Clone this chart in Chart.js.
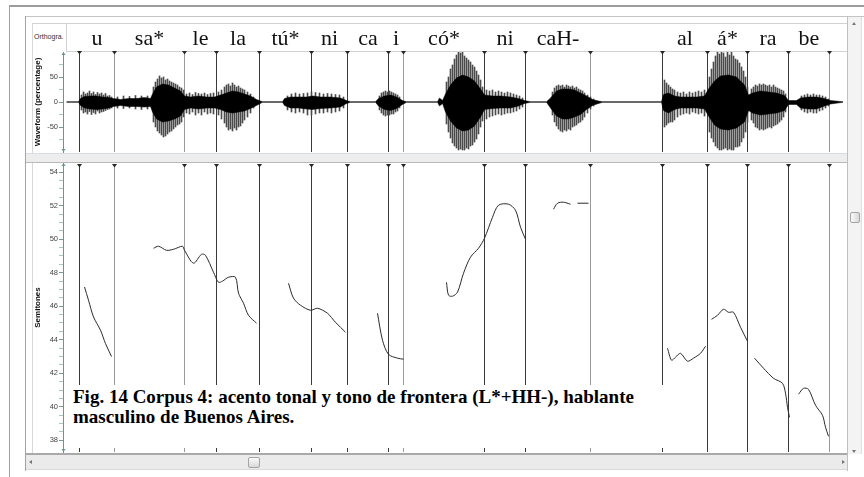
<!DOCTYPE html>
<html>
<head>
<meta charset="utf-8">
<script src="https://cdn.jsdelivr.net/npm/chart.js@4.4.1/dist/chart.umd.min.js"></script>
<style>
html, body { margin: 0; padding: 0; background: #fff; }
#stage { position: relative; width: 864px; height: 477px; overflow: hidden; font-family: 'Liberation Sans', Arial, sans-serif; }
.abs { position: absolute; }
canvas { position: absolute; left: 0; top: 0; }
.tri { position: absolute; width: 0; height: 0; }
</style>
</head>
<body>
<div id="stage">
  <!-- frame of the screenshot -->
  <div class="abs" style="left:9px;top:5px;width:855px;height:2px;background:#9c9c9c"></div>
  <div class="abs" style="left:9px;top:5px;width:1px;height:472px;background:#a0a0a0"></div>
  <div class="abs" style="left:25px;top:16px;width:839px;height:1px;background:#c4c4c4"></div>
  <div class="abs" style="left:25px;top:16px;width:1px;height:455px;background:#a4a4a4"></div>
  <div class="abs" style="left:847px;top:16px;width:1px;height:455px;background:#c0c0c0"></div>
  <div class="abs" style="left:32px;top:23px;width:815px;height:1px;background:#d2d2d2"></div>
  <div class="abs" style="left:32px;top:23px;width:1px;height:430px;background:#d8d8d8"></div>
  <div class="abs" style="left:66px;top:23px;width:1px;height:28px;background:#d2d2d2"></div>
  <div class="abs" style="left:66px;top:51px;width:781px;height:1px;background:#d2d2d2"></div>
  <div class="abs" style="left:26px;top:153px;width:821px;height:10px;background:#ededed;border-top:1px solid #d4dee8;border-bottom:1px solid #b8b8b8;box-sizing:border-box"></div>
  <div class="abs" style="left:34px;top:33px;font-size:7px;color:#333">Orthogra.</div>

  <canvas id="waveChart" width="864" height="477"></canvas>
  <canvas id="pitchChart" width="864" height="477"></canvas>

  <div class="abs" style="left:69px;top:385px;width:632px;height:63px;background:#fff;font:bold 19px 'Liberation Serif','Times New Roman',serif;line-height:20px;padding:2px 0 0 4px;box-sizing:border-box;color:#000;white-space:nowrap">Fig. 14 Corpus 4: acento tonal y tono de frontera (L*+HH-), hablante<br>masculino de Buenos Aires.</div>

  <!-- scrollbars -->
  <div class="abs" style="left:26px;top:453px;width:821px;height:17px;background:#ebebeb;border-top:2px solid #a9a9a9;border-bottom:1px solid #d8d8d8;box-sizing:border-box"></div>
  <div class="tri" style="left:29px;top:460px;border-top:2px solid transparent;border-bottom:2px solid transparent;border-right:3px solid #777"></div>
  <div class="tri" style="left:842px;top:460px;border-top:2px solid transparent;border-bottom:2px solid transparent;border-left:3px solid #777"></div>
  <div class="abs" style="left:248px;top:457px;width:12px;height:11px;background:linear-gradient(#fafafa,#d8d8d8);border:1px solid #a4a4a4;border-radius:2px;box-sizing:border-box"></div>
  <div class="abs" style="left:848px;top:17px;width:14px;height:437px;background:#f3f3f3;border-right:1px solid #e0e0e0;box-sizing:border-box"></div>
  <div class="tri" style="left:852px;top:22px;border-left:2px solid transparent;border-right:2px solid transparent;border-bottom:3px solid #777"></div>
  <div class="tri" style="left:852px;top:450px;border-left:2px solid transparent;border-right:2px solid transparent;border-top:3px solid #777"></div>
  <div class="abs" style="left:850px;top:212px;width:10px;height:11px;background:linear-gradient(90deg,#fafafa,#d8d8d8);border:1px solid #a4a4a4;border-radius:2px;box-sizing:border-box"></div>
</div>

<script>
// orthographic tier: interval boundaries (time, 1/300 s) and the syllable in each interval
const boundaries = [16, 51, 121, 153, 196, 248, 284, 325, 340, 421, 462, 527, 599, 644, 684, 725, 766];
const syllables = ['u', 'sa*', 'le', 'la', 'tú*', 'ni', 'ca', 'i', 'có*', 'ni', 'caH-', '', 'al', 'á*', 'ra', 'be'];

// waveform envelope, dense core (percentage)
const waveTime = [3, 15, 17, 21, 27, 33, 39, 45, 50, 57,
  65, 73, 81, 87, 89, 93, 99, 105, 111, 117,
  121, 127, 135, 143, 151, 157, 163, 169, 175, 181,
  187, 193, 199, 219, 221, 227, 235, 243, 249, 257,
  267, 277, 283, 287, 312, 315, 321, 327, 333, 339,
  343, 374, 376, 379, 382, 387, 393, 399, 405, 411,
  417, 421, 429, 437, 447, 455, 461, 467, 483, 487,
  493, 499, 505, 511, 517, 523, 529, 535, 539, 598,
  600, 605, 611, 617, 625, 633, 641, 645, 651, 657,
  665, 673, 681, 685, 689, 697, 705, 713, 721, 725,
  733, 737, 745, 753, 761, 767, 780];
const waveHigh = [0.5, 0.5, 7, 11, 12, 12, 10, 9, 7, 5,
  7, 7, 9, 7, 16, 30, 36, 34, 28, 22,
  12, 10, 12, 10, 10, 14, 18, 22, 20, 16,
  12, 5, 0.5, 0.5, 7, 10, 10, 10, 12, 10,
  10, 8, 3, 0.5, 0.5, 7, 12, 14, 10, 3,
  0.5, 0.5, 8, 3, 16, 34, 48, 54, 50, 42,
  26, 14, 12, 12, 10, 7, 3, 0.5, 0.5, 8,
  22, 26, 26, 24, 18, 12, 5, 2, 0.5, 0.5,
  15, 18, 12, 10, 10, 10, 12, 26, 42, 52,
  54, 50, 34, 14, 18, 22, 20, 18, 13, 3,
  3, 8, 10, 10, 7, 3, 0.5];
const waveLow = [-0.5, -0.5, -7, -12, -14, -15, -14, -12, -9, -7,
  -9, -9, -10, -9, -20, -34, -40, -38, -34, -28,
  -15, -12, -14, -12, -12, -15, -20, -22, -20, -18,
  -13, -7, -0.5, -0.5, -7, -12, -12, -14, -15, -13,
  -12, -10, -3, -0.5, -0.5, -8, -15, -17, -13, -5,
  -0.5, -0.5, -8, -3, -20, -38, -52, -58, -56, -48,
  -30, -15, -13, -12, -12, -8, -3, -0.5, -0.5, -12,
  -28, -34, -34, -30, -25, -15, -7, -3, -0.5, -0.5,
  -17, -22, -15, -12, -12, -12, -14, -28, -46, -54,
  -56, -52, -40, -17, -22, -26, -24, -22, -17, -5,
  -5, -12, -14, -14, -8, -4, -0.5];

// single glottal-pulse peaks sticking out of the core
const peakTime = [18, 20, 22, 24, 26, 28, 30, 32, 34, 36, 38, 40, 42, 44, 46, 48,
  54, 60, 66, 72, 78, 84,
  90, 92, 94, 96, 98, 100, 102, 104, 106, 108, 110, 112, 114, 116, 118, 120,
  123, 126, 129, 132, 135, 138, 141, 144, 147, 150,
  155, 158, 161, 163, 165, 167, 169, 171, 173, 175, 177, 179, 181, 184, 187, 190,
  224, 228, 232, 236, 240, 244, 248, 252, 256, 260, 264, 268, 272, 276, 280,
  316, 318, 320, 322, 324, 326, 328, 330, 332, 334, 336,
  383, 385, 387, 389, 391, 393, 395, 397, 399, 401, 403, 405, 407, 409, 411, 413, 415, 417, 419,
  423, 426, 429, 432, 435, 438, 441, 444, 447, 450, 453, 456, 459,
  489, 491, 493, 495, 497, 499, 501, 503, 505, 507, 509, 511, 513, 515, 517, 519, 521, 524, 527, 530,
  601, 603, 605, 607, 609, 611, 614, 617, 620, 623, 626, 629, 632, 635, 638, 641,
  646, 648, 650, 652, 654, 656, 658, 660, 662, 664, 666, 668, 670, 672, 674, 676, 678, 680, 682, 684,
  688, 690, 692, 694, 696, 698, 700, 702, 704, 706, 708, 710, 712, 714, 716, 718, 720, 722,
  738, 741, 744, 747, 750, 753, 756, 759, 762, 765];
const peakHigh = [14, 20, 16, 18, 22, 17, 20, 15, 19, 16, 18, 14, 17, 12, 13, 10,
  10, 12, 11, 13, 12, 12,
  30, 40, 46, 52, 48, 50, 44, 46, 42, 40, 38, 36, 34, 30, 28, 24,
  16, 18, 15, 19, 17, 16, 18, 15, 17, 18,
  20, 24, 30, 34, 36, 32, 38, 34, 30, 32, 28, 26, 24, 20, 16, 10,
  12, 16, 18, 16, 17, 18, 20, 19, 18, 16, 17, 16, 15, 14, 10,
  12, 18, 20, 22, 20, 22, 20, 18, 16, 14, 10,
  40, 50, 66, 74, 86, 94, 100, 98, 100, 92, 88, 84, 80, 74, 70, 62, 54, 44, 30,
  24, 22, 24, 20, 22, 20, 18, 20, 18, 16, 14, 12, 8,
  20, 28, 32, 34, 32, 34, 30, 34, 32, 30, 32, 28, 30, 26, 24, 22, 18, 14, 10, 6,
  44, 38, 34, 30, 26, 24, 20, 18, 20, 16, 20, 18, 20, 22, 20, 24,
  50, 66, 80, 92, 100, 96, 100, 98, 90, 100, 94, 100, 92, 86, 84, 78, 70, 62, 50, 30,
  26, 30, 34, 32, 36, 34, 36, 34, 32, 34, 30, 34, 30, 28, 26, 24, 22, 16,
  12, 14, 16, 14, 16, 14, 14, 12, 10, 6];
const peakLow = [-16, -22, -20, -24, -19, -25, -21, -24, -18, -22, -20, -19, -17, -15, -14, -12,
  -12, -13, -12, -14, -15, -14,
  -40, -50, -58, -62, -66, -70, -68, -64, -60, -58, -54, -50, -46, -44, -40, -30,
  -22, -24, -20, -26, -22, -26, -20, -24, -22, -24,
  -26, -34, -42, -50, -56, -54, -58, -52, -56, -50, -48, -42, -36, -30, -22, -12,
  -16, -20, -22, -20, -22, -26, -26, -24, -22, -22, -20, -22, -20, -18, -12,
  -16, -22, -26, -28, -26, -26, -24, -24, -20, -18, -12,
  -44, -60, -72, -82, -88, -92, -96, -94, -96, -96, -92, -94, -88, -86, -80, -74, -64, -50, -38,
  -34, -30, -28, -26, -24, -26, -24, -22, -22, -20, -18, -14, -10,
  -26, -40, -48, -54, -58, -60, -56, -58, -54, -56, -50, -48, -46, -42, -40, -36, -30, -22, -14, -8,
  -50, -46, -42, -40, -40, -36, -30, -26, -24, -22, -24, -20, -22, -24, -22, -28,
  -60, -72, -80, -88, -92, -96, -96, -94, -92, -96, -94, -96, -96, -90, -90, -88, -80, -72, -60, -40,
  -36, -42, -50, -52, -56, -54, -56, -54, -52, -50, -52, -48, -46, -44, -40, -36, -30, -20,
  -16, -20, -22, -20, -22, -22, -18, -16, -12, -8];

// pitch contours (semitones), one list per voiced stretch
const pitchTime = [
  [21, 25, 30, 37, 42, 48],
  [90, 95, 103, 110, 119, 121, 130, 138, 142, 150, 155, 159, 165, 172, 175, 180, 185, 193],
  [225, 230, 237, 247, 254, 264, 272, 282],
  [314, 319, 325, 334, 340],
  [383, 385, 389, 394, 400, 407, 415, 421, 429, 435, 445, 452, 457, 462],
  [490, 494, 500, 507],
  [514, 525],
  [604, 608, 612, 617, 624, 630, 637, 642],
  [648, 654, 660, 665, 670, 677, 684],
  [691, 700, 710, 719, 722, 724, 726],
  [735, 740, 745, 752, 759, 762, 765]
];
const pitchSemitones = [
  [47.15, 46.36, 45.36, 44.57, 43.77, 43.0],
  [49.46, 49.58, 49.34, 49.4, 49.58, 49.34, 48.57, 49.1, 49.04, 48.03, 47.43, 47.5, 47.73, 47.73, 46.78, 46.18, 45.46, 44.99],
  [47.37, 46.48, 46.06, 45.76, 45.88, 45.58, 45.04, 44.45],
  [45.58, 43.97, 43.13, 42.9, 42.84],
  [47.43, 46.66, 46.6, 46.84, 47.97, 48.93, 49.46, 50.06, 51.31, 52.03, 52.09, 51.73, 50.72, 50.0],
  [51.79, 52.15, 52.21, 52.09],
  [52.15, 52.15],
  [43.49, 42.78, 42.96, 43.19, 42.72, 42.9, 43.19, 43.61],
  [45.22, 45.46, 45.82, 45.64, 45.64, 44.75, 43.91],
  [42.9, 42.3, 41.7, 41.4, 40.81, 39.97, 39.37],
  [40.75, 41.1, 41.04, 40.09, 39.49, 38.78, 38.24]
];

// axis ticks
const waveTicks = [-75, -50, -25, 0, 25, 50, 75];
const waveTickLabels = [-50, 0, 50];
const pitchTickLabels = [38, 40, 42, 44, 46, 48, 50, 52, 54];

const teal = '#5a9b9b';
const tickFont = { family: "'Liberation Sans', Arial, sans-serif", size: 7.5 };
const titleFont = { family: "'Liberation Sans', Arial, sans-serif", size: 8, weight: 'bold' };
const faintLines = [1, 2, 8, 11, 16];

// vertical interval lines with the small marker on top
const boundaryPlugin = {
  id: 'boundaries',
  beforeDatasetsDraw(chart, args, opts) {
    const { ctx, chartArea, scales: { x } } = chart;
    ctx.save();
    boundaries.forEach((t, i) => {
      const px = Math.floor(x.getPixelForValue(t)) + 0.5;
      ctx.strokeStyle = faintLines.includes(i) ? '#9a9a9a' : '#3a3a3a';
      ctx.lineWidth = 1;
      ctx.beginPath();
      ctx.moveTo(px, opts.top);
      ctx.lineTo(px, chartArea.bottom);
      ctx.stroke();
      ctx.fillStyle = '#262626';
      ctx.beginPath();
      ctx.moveTo(px - 2.5, opts.top);
      ctx.lineTo(px + 2.5, opts.top);
      ctx.lineTo(px, opts.top + 3.5);
      ctx.closePath();
      ctx.fill();
    });
    ctx.restore();
  },
  afterDraw(chart, args, opts) {
    const { ctx, chartArea, scales: { x } } = chart;
    ctx.save();
    // arrow ends of the value axis
    const ax = chartArea.left + 0.5;
    ctx.fillStyle = teal;
    ctx.beginPath();
    ctx.moveTo(ax - 2, chartArea.top + 3); ctx.lineTo(ax + 2, chartArea.top + 3); ctx.lineTo(ax, chartArea.top);
    ctx.fill();
    ctx.beginPath();
    ctx.moveTo(ax - 2, chartArea.bottom - 3); ctx.lineTo(ax + 2, chartArea.bottom - 3); ctx.lineTo(ax, chartArea.bottom);
    ctx.fill();
    if (opts.labels) {
      ctx.fillStyle = '#111';
      ctx.font = "22px 'Liberation Serif', 'Times New Roman', serif";
      ctx.textAlign = 'center';
      ctx.textBaseline = 'alphabetic';
      syllables.forEach((s, i) => {
        if (!s) return;
        const mid = (boundaries[i] + boundaries[i + 1]) / 2;
        ctx.fillText(s, x.getPixelForValue(mid), 45);
      });
    }
    ctx.restore();
  }
};

// half-unit margins put every time step on a pixel centre, so the 1px peaks stay crisp
function xScale() {
  return { type: 'linear', min: -0.5, max: 779.5, offset: false, display: false };
}

function yScale(min, max, title, isLabel, titleGap) {
  return {
    type: 'linear', min: min, max: max,
    afterFit(s) { s.width = 63; },
    ticks: {
      font: tickFont, color: '#444', padding: 1, autoSkip: false,
      callback: v => isLabel(v) ? String(v) : ''
    },
    grid: {
      drawOnChartArea: false, tickLength: 4,
      tickColor: c => isLabel(c.tick.value) ? '#6f9c9c' : '#a9c7c7'
    },
    border: { color: teal, width: 1 },
    title: { display: true, text: title, font: titleFont, color: '#111', padding: { top: titleGap, bottom: 0 } }
  };
}

const waveY = yScale(-100, 100, 'Waveform (percentage)', v => waveTickLabels.includes(v), 33);
waveY.afterBuildTicks = s => { s.ticks = waveTicks.map(v => ({ value: v })); };

new Chart(document.getElementById('waveChart'), {
  type: 'line',
  data: {
    datasets: [
      {
        data: waveTime.map((t, i) => ({ x: t, y: waveHigh[i] })),
        borderColor: '#000', borderWidth: 0.5, pointRadius: 0, tension: 0,
        backgroundColor: '#000', fill: '+1'
      },
      {
        data: waveTime.map((t, i) => ({ x: t, y: waveLow[i] })),
        borderColor: '#000', borderWidth: 0.5, pointRadius: 0, tension: 0, fill: false
      },
      {
        type: 'bar',
        data: peakTime.map((t, i) => ({ x: t, y: [peakLow[i], peakHigh[i]] })),
        backgroundColor: '#4a4a4a', barThickness: 1, grouped: false, borderWidth: 0
      }
    ]
  },
  options: {
    responsive: false, animation: false, devicePixelRatio: 1, events: [],
    layout: { padding: { left: 0, right: 21, top: 52, bottom: 325 } },
    scales: { x: xScale(), y: waveY },
    plugins: { legend: { display: false }, tooltip: { enabled: false }, boundaries: { top: 51, labels: true } }
  },
  plugins: [boundaryPlugin]
});

const pitchY = yScale(37.3, 54.55, 'Semitones', v => pitchTickLabels.includes(v), 33);
pitchY.ticks.stepSize = 0.5;
pitchY.afterBuildTicks = s => { s.ticks = s.ticks.filter(t => Number.isInteger(t.value * 2)); };

new Chart(document.getElementById('pitchChart'), {
  type: 'line',
  data: {
    datasets: pitchTime.map((ts, k) => ({
      data: ts.map((t, i) => ({ x: t, y: pitchSemitones[k][i] })),
      borderColor: '#2a2a2a', borderWidth: 1, pointRadius: 0, tension: 0.3, fill: false
    }))
  },
  options: {
    responsive: false, animation: false, devicePixelRatio: 1, events: [],
    layout: { padding: { left: 0, right: 21, top: 163, bottom: 25 } },
    scales: { x: xScale(), y: pitchY },
    plugins: { legend: { display: false }, tooltip: { enabled: false }, boundaries: { top: 164, labels: false } }
  },
  plugins: [boundaryPlugin]
});
</script>
</body>
</html>
